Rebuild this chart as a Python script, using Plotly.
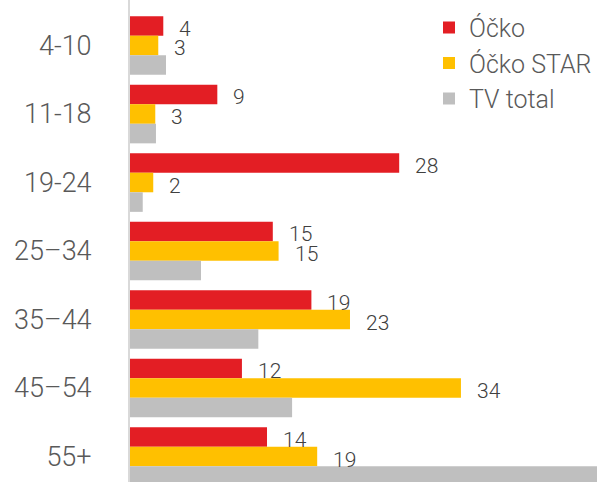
import plotly.graph_objects as go

categories = ["4-10", "11-18", "19-24", "25\u201334", "35\u201344", "45\u201354", "55+"]
ocko = [3.45, 9.05, 27.9, 14.8, 18.8, 11.6, 14.2]
ocko_star = [2.93, 2.62, 2.41, 15.4, 22.8, 34.3, 19.4]
tv_total = [3.73, 2.69, 1.32, 7.36, 13.3, 16.8, 50.0]
ocko_labels = ["4", "9", "28", "15", "19", "12", "14"]
star_labels = ["3", "3", "2", "15", "23", "34", "19"]

series_names = ["\u00d3\u010dko", "\u00d3\u010dko STAR", "TV total"]
colors = ["#E31E24", "#FFC000", "#BFBFBF"]

FONT = "Roboto"
TEXT_COLOR = "#595959"
BARGAP = 0.143

fig = go.Figure()
for name, vals, col in zip(series_names, [ocko, ocko_star, tv_total], colors):
    fig.add_trace(go.Bar(
        y=list(range(len(categories))), x=vals, name=name, orientation="h",
        marker=dict(color=col, line=dict(width=0)),
    ))

bw = (1 - BARGAP) / 3
for k, (vals, labs) in enumerate([(ocko, ocko_labels), (ocko_star, star_labels)]):
    off = (k - 1) * bw
    for i, (v, t) in enumerate(zip(vals, labs)):
        fig.add_annotation(
            x=v, y=i + off, xref="x", yref="y", text=t, showarrow=False,
            xanchor="left", yanchor="middle", xshift=14, yshift=-3,
            font=dict(family=FONT, size=21, color="#404040", weight=300),
        )

fig.update_layout(
    width=597, height=482,
    margin=dict(l=130, r=0, t=0, b=0),
    barmode="group", bargap=BARGAP, bargroupgap=0,
    plot_bgcolor="white", paper_bgcolor="white",
    showlegend=True,
    legend=dict(
        x=1.0, y=0.99, xanchor="right", yanchor="top",
        font=dict(family=FONT, size=25, color=TEXT_COLOR, weight=300),
        bgcolor="rgba(0,0,0,0)", itemwidth=30, traceorder="normal",
    ),
    xaxis=dict(range=[0, 48.4], showticklabels=False, showgrid=False,
               zeroline=False, showline=False),
    yaxis=dict(
        range=[6.372, -0.664],
        tickmode="array", tickvals=list(range(len(categories))), ticktext=categories,
        tickfont=dict(family=FONT, size=27, color=TEXT_COLOR, weight=300),
        showgrid=False, zeroline=False,
        showline=True, linecolor="#D9D9D9", linewidth=2,
        ticks="", ticklabelstandoff=31,
    ),
)

fig.write_html(
    "out.html",
    config={"displayModeBar": False},
    post_script="document.body.style.margin='0';document.body.style.overflow='hidden';",
)
